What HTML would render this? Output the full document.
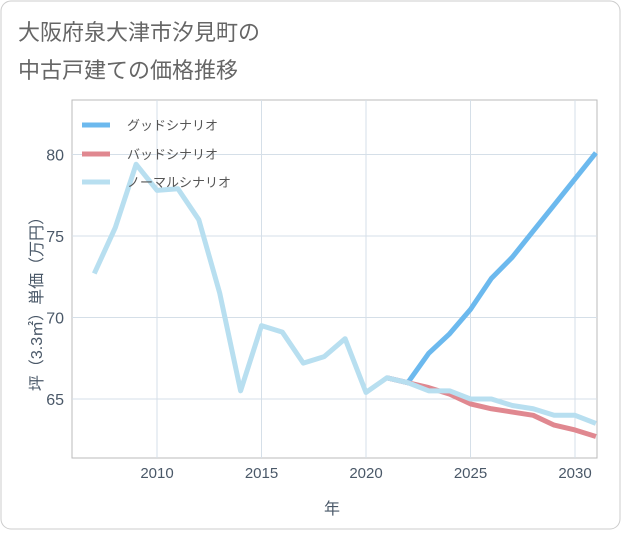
<!DOCTYPE html>
<html><head><meta charset="utf-8">
<style>
body{margin:0;background:#fff;font-family:"Liberation Sans","Noto Sans CJK JP",sans-serif;}
#wrap{position:relative;width:621px;height:530px;}
</style></head>
<body>
<div id="wrap">
<svg id="chart" width="621" height="530" xmlns="http://www.w3.org/2000/svg">
<rect x="1" y="1" width="619" height="528" rx="10" fill="#fff" stroke="#ccc"/>
<text x="18" y="40" font-size="22" fill="#666">大阪府泉大津市汐見町の</text>
<text x="18" y="78" font-size="22" fill="#666">中古戸建ての価格推移</text>
<rect x="72" y="100" width="525" height="358" fill="none" stroke="#bbb"/>
<g id="grid"></g><g id="series"></g><g id="axes"></g>
<text x="332" y="514" font-size="16" fill="#4a5868" text-anchor="middle">年</text>
<text transform="translate(42,300) rotate(-90)" font-size="16" fill="#4a5868" text-anchor="middle">坪（3.3㎡）単価（万円）</text>
<g>
<line x1="82" y1="125" x2="110" y2="125" stroke="#6cb9ee" stroke-width="5"/>
<text x="127" y="130" font-size="13" fill="#555">グッドシナリオ</text>
<line x1="82" y1="154" x2="110" y2="154" stroke="#e08890" stroke-width="5"/>
<text x="127" y="159" font-size="13" fill="#555">バッドシナリオ</text>
<line x1="82" y1="182" x2="110" y2="182" stroke="#b8dff0" stroke-width="5"/>
<text x="127" y="187" font-size="13" fill="#555">ノーマルシナリオ</text>
</g>
</svg>
</div>
<script>
const normalYears=[2007,2008,2009,2010,2011,2012,2013,2014,2015,2016,2017,2018,2019,2020,2021,2022,2023,2024,2025,2026,2027,2028,2029,2030,2031];
const normalValues=[72.7,75.5,79.4,77.8,77.9,76.0,71.5,65.5,69.5,69.1,67.2,67.6,68.7,65.4,66.3,66.0,65.5,65.5,65.0,65.0,64.6,64.4,64.0,64.0,63.5];
const scenarioYears=[2021,2022,2023,2024,2025,2026,2027,2028,2029,2030,2031];
const goodValues=[66.3,66.0,67.8,69.0,70.5,72.4,73.7,75.3,76.9,78.5,80.1];
const badValues=[66.3,66.0,65.7,65.3,64.7,64.4,64.2,64.0,63.4,63.1,62.7];
const xTicks=[2010,2015,2020,2025,2030];
const yTicks=[65,70,75,80];
const NS="http://www.w3.org/2000/svg";
function xs(y){return 157+(y-2010)*20.9;}
function ys(v){return 399-(v-65)*16.3;}
const grid=document.getElementById('grid'),axes=document.getElementById('axes'),series=document.getElementById('series');
xTicks.forEach(t=>{
 const l=document.createElementNS(NS,'line');
 
 
 l.setAttribute('x1',xs(t));l.setAttribute('x2',xs(t));l.setAttribute('y1',100);l.setAttribute('y2',458);
 l.setAttribute('stroke','#d5dfe8');grid.appendChild(l);
 const tx=document.createElementNS(NS,'text');
 
 
 tx.setAttribute('x',xs(t));tx.setAttribute('y',478);tx.setAttribute('font-size','15');tx.setAttribute('fill','#4a5868');tx.setAttribute('text-anchor','middle');
 tx.textContent=t;axes.appendChild(tx);
});
yTicks.forEach(t=>{
 const l=document.createElementNS(NS,'line');
 
 
 l.setAttribute('x1',72);l.setAttribute('x2',597);l.setAttribute('y1',ys(t));l.setAttribute('y2',ys(t));
 l.setAttribute('stroke','#d5dfe8');grid.appendChild(l);
 const tx=document.createElementNS(NS,'text');
 
 
 tx.setAttribute('x',64);tx.setAttribute('y',ys(t)+6);tx.setAttribute('font-size','16');tx.setAttribute('fill','#4a5868');tx.setAttribute('text-anchor','end');
 tx.textContent=t;axes.appendChild(tx);
});
function line(years,vals,color,name){
 const p=document.createElementNS(NS,'polyline');
 
 
 p.setAttribute('points',years.map((y,i)=>xs(y)+','+ys(vals[i])).join(' '));
 p.setAttribute('fill','none');p.setAttribute('stroke',color);p.setAttribute('stroke-width','5');p.setAttribute('stroke-linejoin','round');
 series.appendChild(p);
}
line(scenarioYears,goodValues,'#6cb9ee','good-scenario-line');
line(scenarioYears,badValues,'#e08890','bad-scenario-line');
line(normalYears,normalValues,'#b8dff0','normal-scenario-line');
</script>
</body></html>
